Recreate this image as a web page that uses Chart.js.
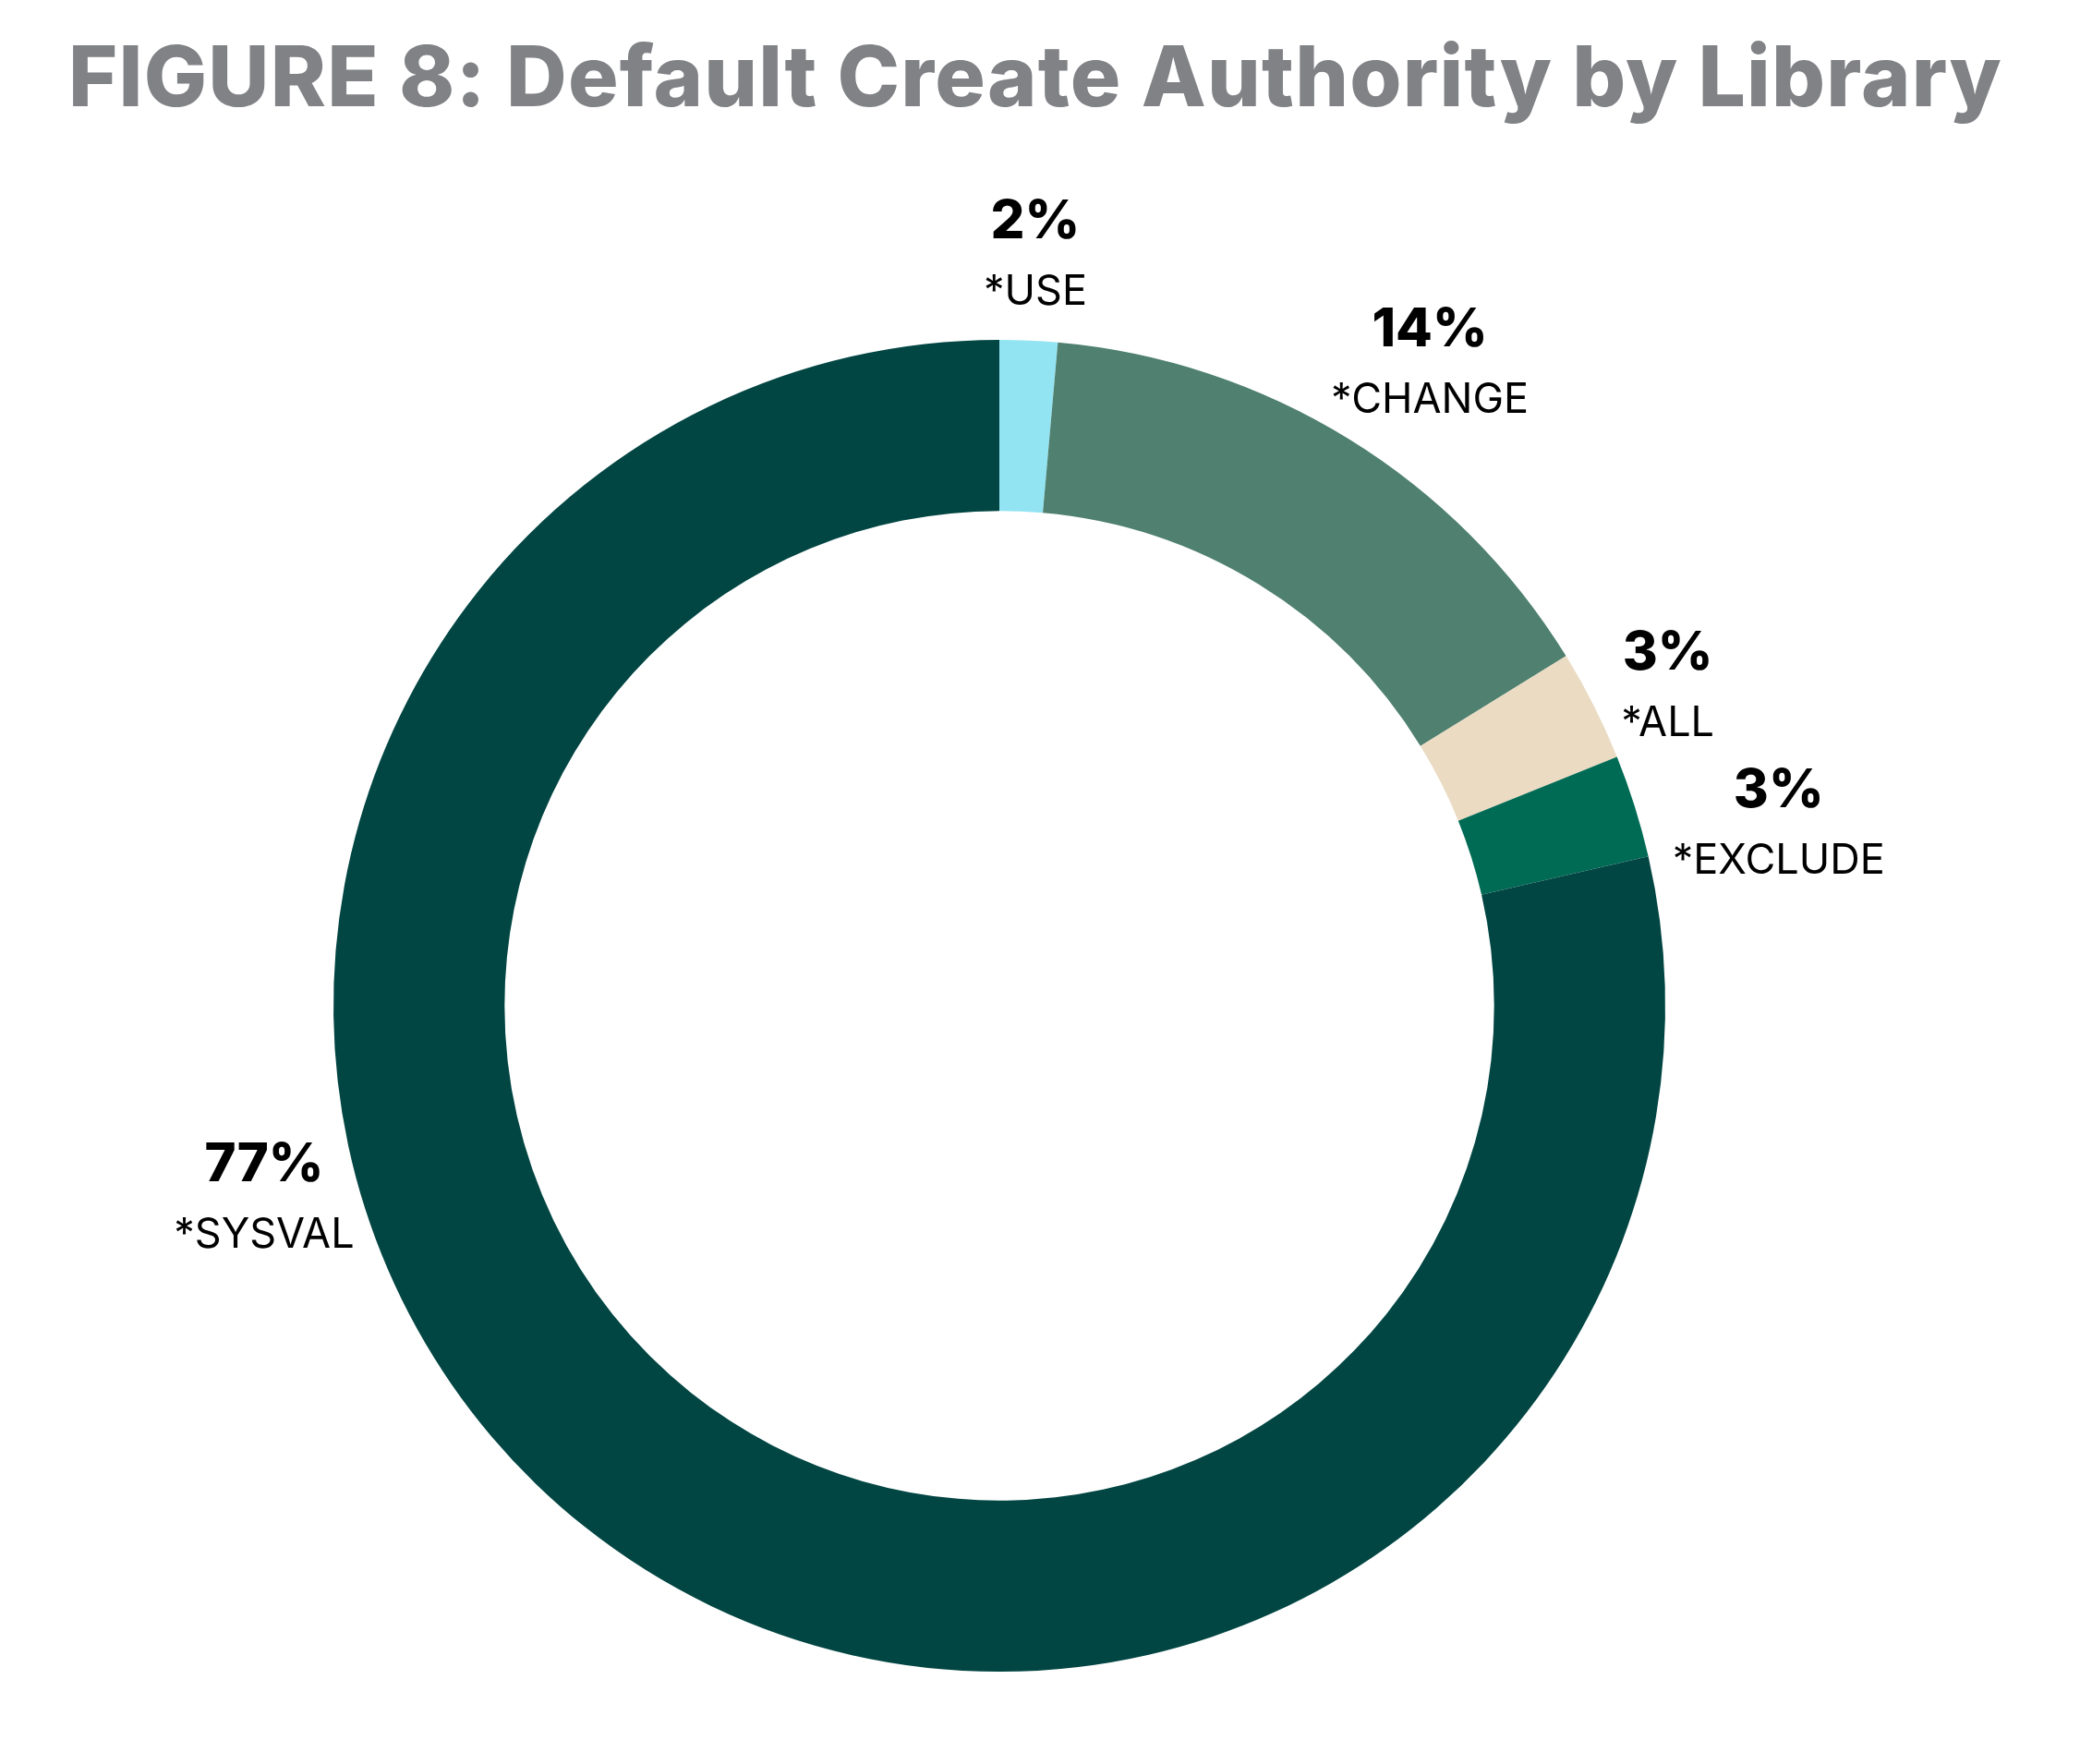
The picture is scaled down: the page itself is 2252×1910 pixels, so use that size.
<!DOCTYPE html>
<html>
<head>
<meta charset="utf-8">
<script src="https://cdn.jsdelivr.net/npm/chart.js@4.4.1/dist/chart.umd.min.js"></script>
<style>
    html, body { margin: 0; padding: 0; background: #fff; }
    #wrap { width: 2252px; height: 1910px; position: relative; }
</style>
</head>
<body>
<div id="wrap"><canvas id="authChart"></canvas></div>
<script>
// values, labels as printed on the figure
const categories = ['*USE', '*CHANGE', '*ALL', '*EXCLUDE', '*SYSVAL'];
const shares = [1.4, 14.8, 2.7, 2.5, 78.6];
const shareLabels = ['2%', '14%', '3%', '3%', '77%'];

const sliceColors = ['#92E4F2', '#4F8070', '#EADBC2', '#006B55', '#024643'];
const titleText = 'FIGURE 8: Default Create Authority by Library';

// where each label block sits: degrees clockwise from 12 o'clock, distance in outer radii
const labelSpots = [
    { angle: 2.75, dist: 1.126 },
    { angle: 33.9, dist: 1.159 },
    { angle: 64.6, dist: 1.111 },
    { angle: 77.0, dist: 1.201 },
    { angle: 255.2, dist: 1.142 }
];

const FONT = 'Inter, "Noto Sans", sans-serif';

const sliceLabels = {
    id: 'sliceLabels',
    afterDraw(chart) {
        const ctx = chart.ctx;
        const arc = chart.getDatasetMeta(0).data[0];
        const cx = arc.x, cy = arc.y, R = arc.outerRadius;

        ctx.save();
        ctx.textAlign = 'center';
        ctx.textBaseline = 'middle';

        ctx.fillStyle = '#808285';
        ctx.font = '800 91px ' + FONT;
        ctx.letterSpacing = '1.2px';
        ctx.fillText(titleText, 1121, 88);
        ctx.letterSpacing = '0px';

        ctx.fillStyle = '#000';
        categories.forEach((cat, i) => {
            const s = labelSpots[i];
            const a = s.angle * Math.PI / 180;
            const x = cx + R * s.dist * Math.sin(a);
            const y = cy - R * s.dist * Math.cos(a);
            ctx.font = '800 58px ' + FONT;
            ctx.fillText(shareLabels[i], x, y - 38);
            ctx.font = '400 45px ' + FONT;
            ctx.fillText(cat, x, y + 38);
        });
        ctx.restore();
    }
};

window.onload = function() {
    const ctx = document.getElementById('authChart').getContext('2d');
    new Chart(ctx, {
        type: 'doughnut',
        data: {
            labels: categories,
            datasets: [{
                data: shares,
                backgroundColor: sliceColors,
                borderWidth: 0
            }]
        },
        options: {
            responsive: true,
            maintainAspectRatio: false,
            devicePixelRatio: 1,
            animation: false,
            events: [],
            cutout: '74.3%',
            layout: { padding: { left: 361, right: 449, top: 368, bottom: 100 } },
            plugins: {
                legend: { display: false },
                tooltip: { enabled: false },
                title: { display: false }
            }
        },
        plugins: [sliceLabels]
    });
};
</script>
</body>
</html>
